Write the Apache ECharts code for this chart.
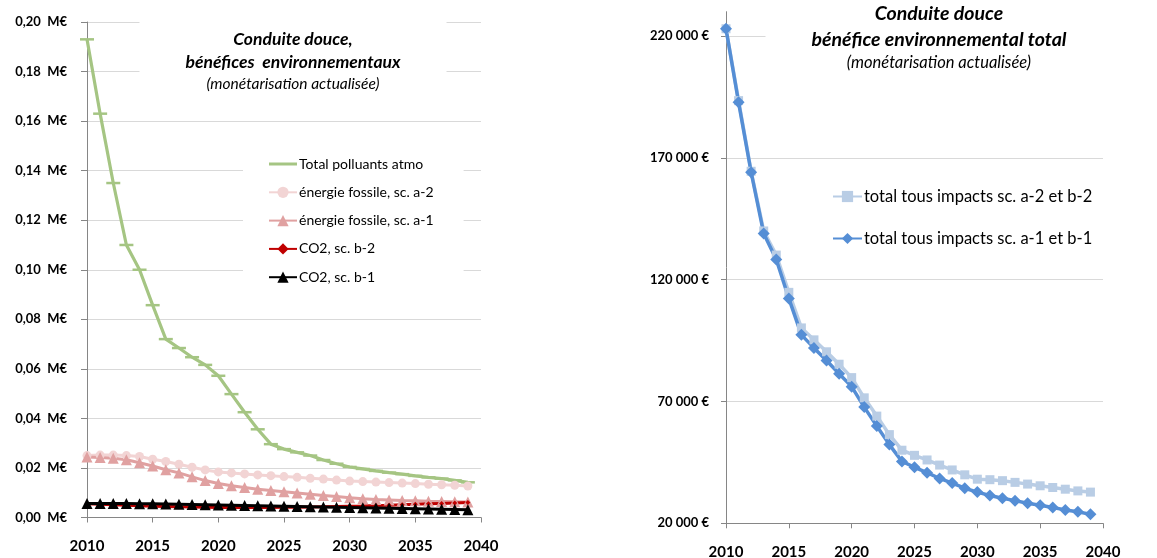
<!DOCTYPE html>
<html>
<head>
<meta charset="utf-8">
<script src="https://cdn.jsdelivr.net/npm/echarts@6/dist/echarts.min.js"></script>
<style>
  html, body { margin: 0; padding: 0; background: #fff; }
  #chart { width: 1157px; height: 558px; }
</style>
</head>
<body>
<div id="chart"></div>
<script>
// years, one point per year
var years = [2010, 2011, 2012, 2013, 2014, 2015, 2016, 2017, 2018, 2019,
             2020, 2021, 2022, 2023, 2024, 2025, 2026, 2027, 2028, 2029,
             2030, 2031, 2032, 2033, 2034, 2035, 2036, 2037, 2038, 2039];

// left chart (M€)
var totalPolluants = [0.193, 0.163, 0.135, 0.110, 0.100, 0.0857, 0.0720, 0.0684, 0.0647, 0.0616,
                      0.0572, 0.0498, 0.0425, 0.0356, 0.0296, 0.0276, 0.0263, 0.0250, 0.0232, 0.0217,
                      0.0204, 0.0196, 0.0188, 0.0181, 0.0175, 0.0168, 0.0162, 0.0157, 0.0150, 0.0142];
var energieA2 = [0.0250, 0.0252, 0.0252, 0.0250, 0.0246, 0.0235, 0.0226, 0.0215, 0.0203, 0.0192,
                 0.0184, 0.0180, 0.0176, 0.0172, 0.0169, 0.0165, 0.0162, 0.0158, 0.0155, 0.0151,
                 0.0147, 0.0145, 0.0143, 0.0141, 0.0139, 0.0137, 0.0134, 0.0132, 0.0130, 0.0127];
var energieA1 = [0.0244, 0.0242, 0.0239, 0.0233, 0.0221, 0.0208, 0.0193, 0.0180, 0.0164, 0.0149,
                 0.0137, 0.0128, 0.0121, 0.0114, 0.0109, 0.0104, 0.0099, 0.0094, 0.0089, 0.0085,
                 0.0080, 0.0076, 0.0073, 0.0071, 0.0069, 0.0068, 0.0066, 0.0065, 0.0064, 0.0063];
var co2B2 = [0.0055, 0.0053, 0.0051, 0.0049, 0.0047, 0.0045, 0.0044, 0.0043, 0.0042, 0.0041,
             0.0040, 0.0040, 0.0040, 0.0040, 0.0040, 0.0041, 0.0041, 0.0042, 0.0043, 0.0044,
             0.0045, 0.0046, 0.0048, 0.0049, 0.0051, 0.0053, 0.0055, 0.0057, 0.0059, 0.0061];
var co2B1 = [0.0057, 0.0057, 0.0057, 0.0057, 0.0056, 0.0055, 0.0054, 0.0053, 0.0052, 0.0051,
             0.0050, 0.0049, 0.0048, 0.0047, 0.0046, 0.0045, 0.0044, 0.0043, 0.0042, 0.0041,
             0.0040, 0.0039, 0.0038, 0.0037, 0.0036, 0.0035, 0.0034, 0.0033, 0.0032, 0.0031];

// right chart (€)
var totalA2B2 = [223000, 193500, 164500, 140000, 130100, 114800, 100200, 95300, 90400, 85300,
                 79800, 71500, 64000, 56400, 50000, 47900, 46000, 43900, 41900, 39900,
                 38100, 37900, 37500, 36800, 36100, 35400, 34700, 34000, 33300, 32800];
var totalA1B1 = [223000, 192800, 164100, 139000, 128300, 112300, 97350, 92000, 86800, 81400,
                 76100, 67700, 59900, 52300, 45400, 43000, 40800, 38400, 36500, 34400,
                 32800, 31400, 30300, 29300, 28200, 27400, 26500, 25500, 24700, 23700];

var leftNames = ['Total polluants atmo', 'énergie fossile, sc. a-2', 'énergie fossile, sc. a-1', 'CO2, sc. b-2', 'CO2, sc. b-1'];
var rightNames = ['total tous impacts sc. a-2 et b-2', 'total tous impacts sc. a-1 et b-1'];

function pairs(vals) {
    return years.map(function (y, i) { return [y, vals[i]]; });
}

var font = 'Lato, "Open Sans", sans-serif';
var axisGrey = '#868686';

function xAxisFor(gridIndex, margin) {
    return {
        gridIndex: gridIndex,
        type: 'value',
        min: 2010,
        max: 2040,
        interval: 5,
        axisLine: { lineStyle: { color: axisGrey } },
        axisTick: { show: true, length: 5, lineStyle: { color: axisGrey } },
        axisLabel: {
            color: '#000', fontWeight: 'bold', fontSize: 15, fontFamily: font, margin: margin,
            formatter: function (v) { return String(v); }
        },
        splitLine: { show: false }
    };
}

var chart = echarts.init(document.getElementById('chart'));

var option = {
    animation: false,
    backgroundColor: '#fff',
    textStyle: { fontFamily: font },
    title: [{
        text: 'Conduite douce,\nbénéfices  environnementaux',
        subtext: '(monétarisation actualisée)',
        left: 247,
        top: 19,
        padding: [9, 46, 6, 46],
        textAlign: 'center',
        itemGap: 1,
        backgroundColor: '#fff',
        textStyle: { fontSize: 17.5, fontWeight: 'bold', fontStyle: 'italic', color: '#000', lineHeight: 23, fontFamily: font },
        subtextStyle: { fontSize: 15.5, fontStyle: 'italic', color: '#000', lineHeight: 18, fontFamily: font }
    }, {
        text: 'Conduite douce\nbénéfice environnemental total',
        subtext: '(monétarisation actualisée)',
        left: 893,
        top: 0,
        padding: [1, 46, 6, 46],
        textAlign: 'center',
        itemGap: 0,
        backgroundColor: '#fff',
        textStyle: { fontSize: 19.5, fontWeight: 'bold', fontStyle: 'italic', color: '#000', lineHeight: 26, fontFamily: font },
        subtextStyle: { fontSize: 16.5, fontStyle: 'italic', color: '#000', lineHeight: 20, fontFamily: font }
    }],
    legend: [{
        data: [
            { name: leftNames[0], icon: 'path://M0,0 L28,0 L28,3 L0,3 Z' },
            leftNames[1], leftNames[2], leftNames[3], leftNames[4]
        ],
        orient: 'vertical',
        left: 243,
        top: 150,
        padding: [7, 30, 12, 25],
        backgroundColor: '#fff',
        itemWidth: 28,
        itemHeight: 14,
        itemGap: 14.3,
        textStyle: { fontSize: 14, color: '#000', fontFamily: font, padding: [0, 0, 0, -3] }
    }, {
        data: rightNames,
        orient: 'vertical',
        left: 832,
        top: 188,
        padding: 0,
        itemWidth: 29,
        itemHeight: 14,
        itemGap: 25,
        textStyle: { fontSize: 16.5, color: '#000', fontFamily: font, padding: [0, 0, 0, -3] }
    }],
    grid: [
        { left: 87, top: 22, width: 394, height: 495.5, outerBoundsMode: 'none' },
        { left: 726, top: 11.7, width: 377, height: 511.6, outerBoundsMode: 'none' }
    ],
    xAxis: [xAxisFor(0, 21), xAxisFor(1, 21)],
    yAxis: [{
        gridIndex: 0,
        type: 'value',
        min: 0,
        max: 0.2,
        interval: 0.02,
        axisLine: { show: true, lineStyle: { color: axisGrey } },
        axisTick: { show: true, length: 6, lineStyle: { color: axisGrey } },
        axisLabel: {
            color: '#000', fontWeight: 'bold', fontSize: 13, fontFamily: font, margin: 20,
            formatter: function (v) { return v.toFixed(2).replace('.', ',') + '  M€'; }
        },
        splitLine: { lineStyle: { color: '#d9d9d9' } }
    }, {
        gridIndex: 1,
        type: 'value',
        min: 20000,
        max: 230000,
        interval: 50000,
        axisLine: { show: true, lineStyle: { color: axisGrey } },
        axisTick: { show: true, length: 5, lineStyle: { color: axisGrey } },
        axisLabel: {
            color: '#000', fontWeight: 'bold', fontSize: 13, fontFamily: font, margin: 17,
            showMaxLabel: false,
            formatter: function (v) {
                return String(v).replace(/\B(?=(\d{3})+(?!\d))/g, ' ') + ' €';
            }
        },
        splitLine: { showMaxLine: false, lineStyle: { color: '#d9d9d9' } }
    }],
    series: [{
        name: leftNames[0],
        type: 'line',
        xAxisIndex: 0, yAxisIndex: 0,
        data: pairs(totalPolluants),
        symbol: 'rect',
        symbolSize: [14, 2.5],
        color: '#A5C583',
        lineStyle: { width: 3.2 }
    }, {
        name: leftNames[1],
        type: 'line',
        xAxisIndex: 0, yAxisIndex: 0,
        data: pairs(energieA2),
        symbol: 'circle',
        symbolSize: 9,
        color: '#F2D4D4',
        lineStyle: { width: 3 }
    }, {
        name: leftNames[2],
        type: 'line',
        xAxisIndex: 0, yAxisIndex: 0,
        data: pairs(energieA1),
        symbol: 'triangle',
        symbolSize: 11,
        color: '#E0A1A1',
        lineStyle: { width: 3 }
    }, {
        name: leftNames[3],
        type: 'line',
        xAxisIndex: 0, yAxisIndex: 0,
        data: pairs(co2B2),
        symbol: 'diamond',
        symbolSize: 5,
        color: '#C00000',
        lineStyle: { width: 3 }
    }, {
        name: leftNames[4],
        type: 'line',
        xAxisIndex: 0, yAxisIndex: 0,
        data: pairs(co2B1),
        symbol: 'triangle',
        symbolSize: 11,
        color: '#000000',
        lineStyle: { width: 3 }
    }, {
        name: rightNames[0],
        type: 'line',
        xAxisIndex: 1, yAxisIndex: 1,
        data: pairs(totalA2B2),
        symbol: 'rect',
        symbolSize: 9,
        color: '#B9CDE5',
        lineStyle: { width: 3.5 }
    }, {
        name: rightNames[1],
        type: 'line',
        xAxisIndex: 1, yAxisIndex: 1,
        data: pairs(totalA1B1),
        symbol: 'diamond',
        symbolSize: 12,
        color: '#558ED5',
        lineStyle: { width: 3.5 }
    }]
};

chart.setOption(option);
</script>
</body>
</html>
